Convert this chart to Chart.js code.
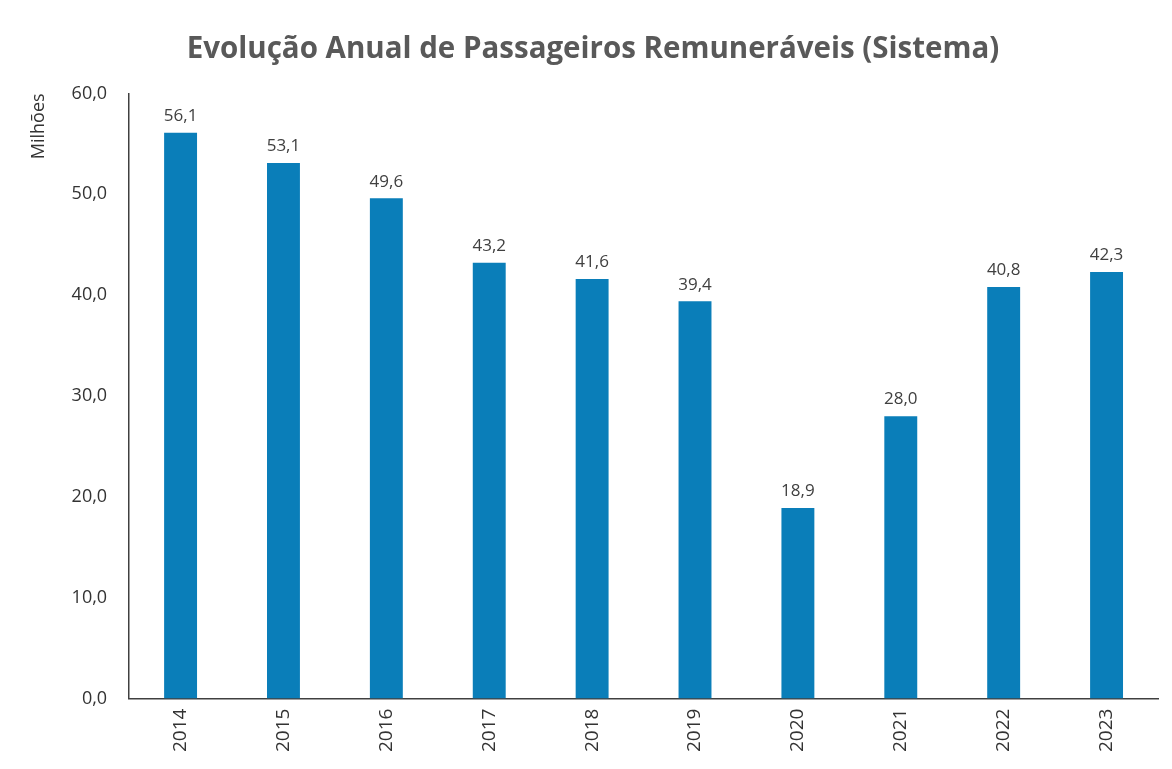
<!DOCTYPE html>
<html>
<head>
<meta charset="utf-8">
<script src="https://cdn.jsdelivr.net/npm/chart.js@4"></script>
<style>
  html, body { margin: 0; padding: 0; background: #ffffff; }
  #wrap { width: 1172px; height: 769px; }
</style>
</head>
<body>
<div id="wrap"><canvas id="chart-1" width="1172" height="769"></canvas></div>
<script>
const anos = ['2014', '2015', '2016', '2017', '2018', '2019', '2020', '2021', '2022', '2023'];
const passageiros = [56.1, 53.1, 49.6, 43.2, 41.6, 39.4, 18.9, 28.0, 40.8, 42.3];
const yTicks = [0, 10, 20, 30, 40, 50, 60];

function fmt(v) {
    return v.toFixed(1).replace('.', ',');
}

// draws the value above each bar
const valueLabels = {
    id: 'valueLabels',
    afterDatasetsDraw(chart) {
        const ctx = chart.ctx;
        const meta = chart.getDatasetMeta(0);
        ctx.save();
        ctx.font = '17px "Open Sans", sans-serif';
        ctx.fillStyle = '#404040';
        ctx.textAlign = 'center';
        ctx.textBaseline = 'bottom';
        meta.data.forEach((bar, i) => {
            ctx.fillText(fmt(passageiros[i]), bar.x, bar.y - 8);
        });
        ctx.restore();
    }
};

const ctx = document.getElementById('chart-1').getContext('2d');
const chart_1 = new Chart(ctx, {
    type: 'bar',
    data: {
        labels: anos,
        datasets: [{
            label: 'Passageiros',
            data: passageiros,
            backgroundColor: '#0a7eb9',
            borderWidth: 0,
            categoryPercentage: 1.0,
            barPercentage: 0.32
        }]
    },
    options: {
        responsive: false,
        animation: false,
        layout: {
            padding: { left: 28, right: 14, top: 10, bottom: 7 }
        },
        scales: {
            x: {
                grid: { display: false, drawTicks: false },
                border: { display: true, color: '#404040', width: 1.5 },
                ticks: {
                    color: '#333333',
                    font: { family: '"Open Sans", sans-serif', size: 19 },
                    minRotation: 90,
                    maxRotation: 90,
                    padding: 10
                }
            },
            y: {
                min: 0,
                max: 60,
                afterBuildTicks: axis => {
                    axis.ticks = yTicks.map(v => ({ value: v }));
                },
                grid: { display: false, drawTicks: false },
                border: { display: true, color: '#404040', width: 1.5 },
                ticks: {
                    color: '#333333',
                    font: { family: '"Open Sans", sans-serif', size: 18 },
                    padding: 22,
                    callback: v => fmt(v)
                },
                title: {
                    display: true,
                    text: 'Milhões',
                    align: 'end',
                    color: '#333333',
                    font: { family: '"Open Sans", sans-serif', size: 18 },
                    padding: { top: 0, bottom: 0 }
                }
            }
        },
        plugins: {
            legend: { display: false },
            tooltip: { enabled: false },
            title: {
                display: true,
                text: 'Evolução Anual de Passageiros Remuneráveis (Sistema)',
                color: '#595959',
                font: { family: '"Open Sans", sans-serif', size: 29.5, weight: 'bold' },
                padding: { top: 22, bottom: 26 }
            }
        }
    },
    plugins: [valueLabels]
});
</script>
</body>
</html>
